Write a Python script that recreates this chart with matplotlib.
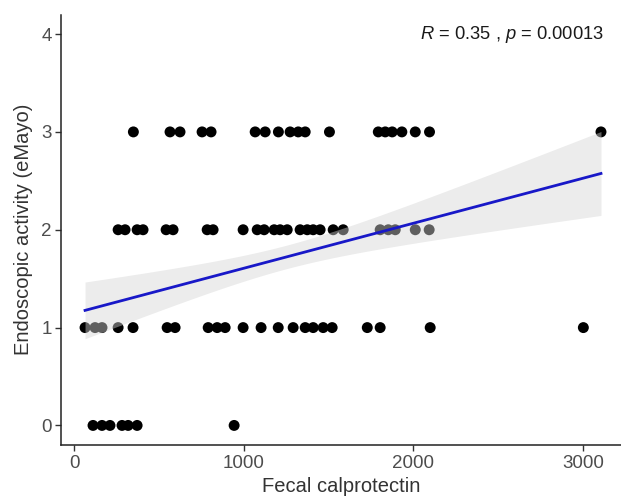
import matplotlib
matplotlib.use("Agg")
import matplotlib.pyplot as plt
import numpy as np

# Fecal calprotectin values for each endoscopic score
x_score0 = [112, 165, 212, 283, 319, 372, 944]
x_score1 = [65, 124, 165, 260, 348, 549, 596, 791, 844, 891, 997, 1103, 1204,
            1292, 1363, 1410, 1469, 1522, 1729, 1805, 2100, 3003]
x_score2 = [260, 301, 372, 407, 543, 584, 785, 820, 997, 1080, 1121, 1180, 1215,
            1257, 1333, 1375, 1410, 1451, 1528, 1587, 1805, 1853, 1894, 2012, 2094]
x_score3 = [350, 566, 625, 755, 808, 1068, 1127, 1205, 1274, 1322, 1363, 1506,
            1794, 1835, 1876, 1933, 2012, 2096, 3107]

fit_intercept = 1.146
fit_slope = 4.6e-4
band_min = 0.12      # narrowest half-width of the 95% band
band_center = 1253   # x where the band is narrowest
band_growth = 2.22e-4

label_text = "$\\it{R}$ = 0.35 , $\\it{p}$ = 0.00013"

plt.rcParams["font.family"] = ["Liberation Sans", "DejaVu Sans"]
plt.rcParams["mathtext.fontset"] = "custom"
plt.rcParams["mathtext.rm"] = "Liberation Sans"
plt.rcParams["mathtext.it"] = "Liberation Sans:italic"

xs = np.array(x_score0 + x_score1 + x_score2 + x_score3, dtype=float)
ys = np.array([0] * len(x_score0) + [1] * len(x_score1)
              + [2] * len(x_score2) + [3] * len(x_score3), dtype=float)

grid = np.linspace(xs.min(), xs.max(), 100)
fit = fit_intercept + fit_slope * grid
half = np.sqrt(band_min ** 2 + (band_growth * (grid - band_center)) ** 2)

fig = plt.figure(figsize=(6.21, 5.01), dpi=100)
ax = fig.add_axes([61.3 / 621, 56 / 501, (621 - 61.3) / 621, 430.5 / 501])

ax.scatter(xs, ys, s=62, color="black", edgecolors="none", zorder=2)
ax.fill_between(grid, fit - half, fit + half, color="#d5d5d5", alpha=0.45,
                linewidth=0, zorder=3)
ax.plot(grid, fit, color="#1818c8", linewidth=2, zorder=4)

ax.text(3125, 4.0, label_text, ha="right", va="center", fontsize=13.2, color="#1a1a1a")

ax.set_xlim(-75, 3225)
ax.set_ylim(-0.2, 4.2)
ax.set_xticks([0, 1000, 2000, 3000])
ax.set_yticks([0, 1, 2, 3, 4])

for side in ["top", "right"]:
    ax.spines[side].set_visible(False)
for side in ["left", "bottom"]:
    ax.spines[side].set_color("#222222")
    ax.spines[side].set_linewidth(1.1)

ax.tick_params(axis="both", length=4, width=1, color="#333333",
               labelsize=13.5, labelcolor="#4d4d4d", pad=3)
ax.set_xlabel("Fecal calprotectin", fontsize=14.5, color="#333333", labelpad=4)
ax.set_ylabel("Endoscopic activity (eMayo)", fontsize=14.5, color="#333333", labelpad=6)

fig.savefig("out.png", dpi=100, facecolor="white")
